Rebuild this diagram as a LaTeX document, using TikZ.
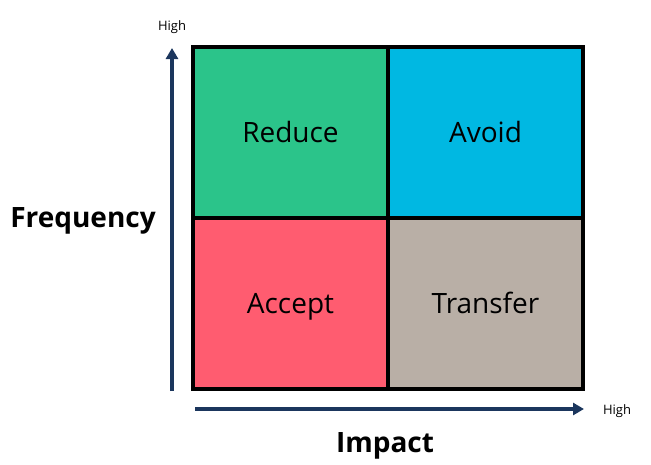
\documentclass[tikz,border=0pt]{standalone}
\usepackage{fontspec}
\setmainfont{Open Sans}
\usetikzlibrary{arrows.meta}
\definecolor{cgreen}{HTML}{2BC48A}
\definecolor{cblue}{HTML}{00B8E2}
\definecolor{cred}{HTML}{FF5C70}
\definecolor{cgrey}{HTML}{B9AFA6}
\definecolor{navy}{HTML}{1B365D}
\begin{document}
\begin{tikzpicture}[x=1pt,y=-1pt,
  cell/.style={draw=black,line width=4pt,minimum width=195pt,minimum height=171pt,inner sep=0pt,text height=20pt,text depth=0pt,font=\fontsize{28}{32}\selectfont},
  axis/.style={draw=navy,line width=3.5pt,-{Triangle[length=11pt,width=12pt]}},
  small/.style={inner sep=0pt,text height=9.5pt,text depth=0pt,font=\fontsize{13}{15}\selectfont},
  big/.style={inner sep=0pt,text height=20.5pt,text depth=0pt,font=\fontsize{28}{32}\selectfont\bfseries}]
\useasboundingbox (0,0) rectangle (651,464);
\node[cell,fill=cgreen] (reduce) at (290.5,132.5) {Reduce};
\node[cell,fill=cblue] (avoid) at (485.5,132.5) {Avoid};
\node[cell,fill=cred] (accept) at (290.5,303.5) {Accept};
\node[cell,fill=cgrey] (transfer) at (485.5,303.5) {Transfer};
\coordinate (v0) at (172,391);
\coordinate (v1) at (172,48);
\coordinate (h0) at (195,409);
\coordinate (h1) at (584,409);
\draw[axis] (v0) -- (v1);
\draw[axis] (h0) -- (h1);
\node[small] (hightop) at (172,26) {High};
\node[small] (highright) at (617,410) {High};
\node[big] (freq) at (83,217.5) {Frequency};
\node[big] (impact) at (385,442) {Impact};
\end{tikzpicture}
\end{document}
